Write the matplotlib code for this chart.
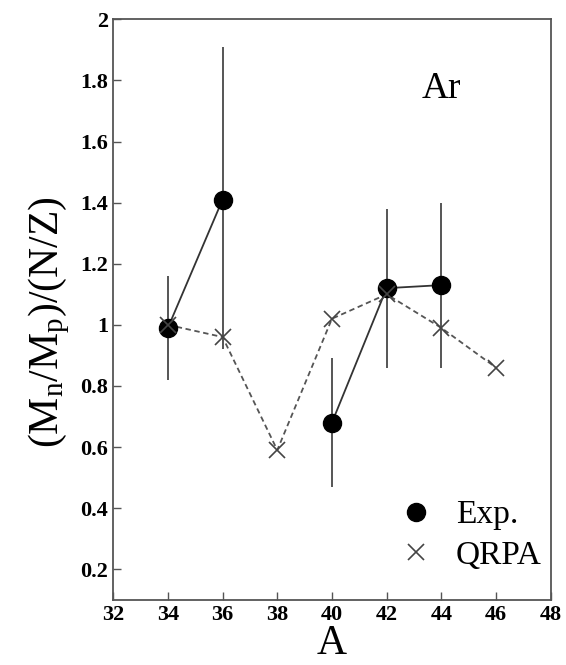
import matplotlib.pyplot as plt
import numpy as np

# Experimental data (nan = gap in the line)
a_exp = [34, 36, 38, 40, 42, 44]
r_exp = [0.99, 1.41, np.nan, 0.68, 1.12, 1.13]
err_lo = [0.82, 0.92, np.nan, 0.47, 0.86, 0.86]
err_hi = [1.16, 1.91, np.nan, 0.89, 1.38, 1.40]

# QRPA calculation
a_qrpa = [34, 36, 38, 40, 42, 44, 46]
r_qrpa = [1.00, 0.96, 0.59, 1.02, 1.10, 0.99, 0.86]

plt.rcParams['font.family'] = ['Liberation Serif', 'DejaVu Serif']
plt.rcParams['mathtext.fontset'] = 'custom'
plt.rcParams['mathtext.rm'] = 'Liberation Serif'

fig = plt.figure(figsize=(5.66, 6.65), dpi=100)
ax = fig.add_axes([0.2, 0.098, 0.773, 0.873])

r = np.array(r_exp)
yerr = [r - np.array(err_lo), np.array(err_hi) - r]
ax.errorbar(a_exp, r_exp, yerr=yerr, fmt='none', ecolor='#555555', elinewidth=1.4, capsize=0)
ax.plot(a_qrpa, r_qrpa, linestyle=(0, (3, 2)), color='#555555', lw=1.3)
ax.plot(a_exp, r_exp, '-', color='#333333', lw=1.3)
ax.plot(a_exp, r_exp, 'o', color='black', ms=13, ls='none', label='Exp.')
ax.plot(a_qrpa, r_qrpa, 'x', color='#444444', ms=12, mew=1.2, ls='none', label='QRPA')

ax.set_xlim(32, 48)
ax.set_ylim(0.1, 2.0)
ax.set_xticks(np.arange(32, 49, 2))
ax.set_yticks([0.2, 0.4, 0.6, 0.8, 1, 1.2, 1.4, 1.6, 1.8, 2])
ax.set_yticklabels(['0.2', '0.4', '0.6', '0.8', '1', '1.2', '1.4', '1.6', '1.8', '2'])
ax.tick_params(direction='in', length=6, labelsize=16, width=1, color='#555555')
for lab in ax.get_xticklabels() + ax.get_yticklabels():
    lab.set_fontweight('bold')
for s in ax.spines.values():
    s.set_color('#555555')
    s.set_linewidth(1.3)

ax.set_xlabel('A', fontsize=30, labelpad=0)
ax.set_ylabel(r'$\mathrm{(M_n/M_p)/(N/Z)}$', fontsize=30, labelpad=0)
ax.yaxis.set_label_coords(-0.095, 0.478)
ax.text(0.705, 0.865, 'Ar', transform=ax.transAxes, fontsize=27)

ax.legend(loc='lower right', frameon=False, fontsize=24, handlelength=1.5,
          handletextpad=0.45, labelspacing=0.3, borderpad=0, borderaxespad=0,
          bbox_to_anchor=(0.98, 0.05))

fig.savefig('out.png', dpi=100)
